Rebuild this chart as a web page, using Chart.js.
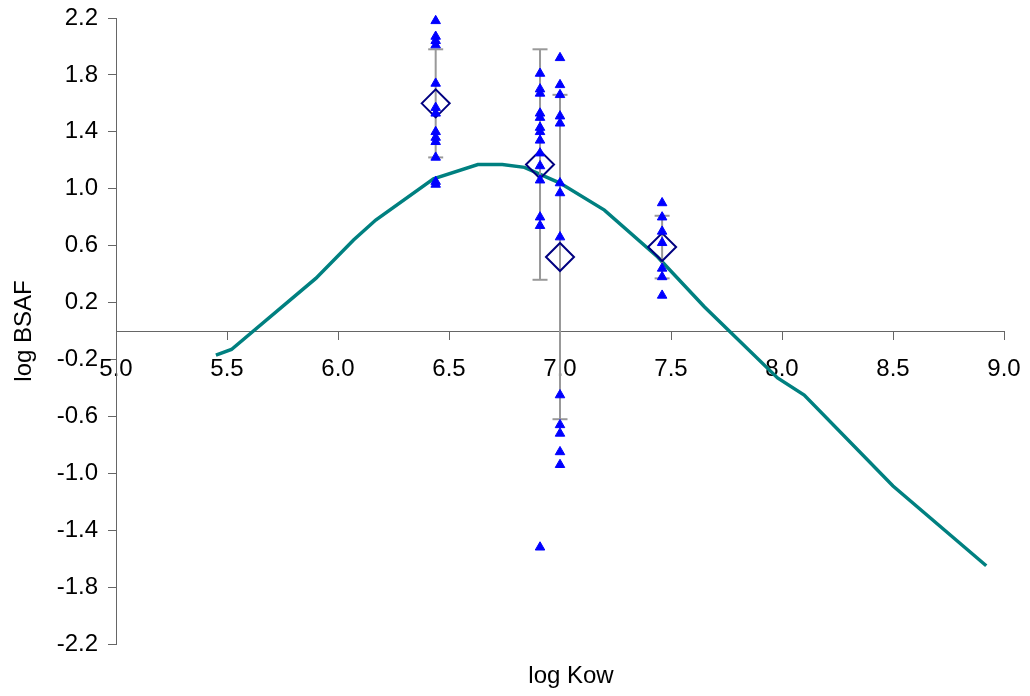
<!DOCTYPE html>
<html lang="en">
<head>
  <meta charset="UTF-8" />
  <title>log BSAF vs log Kow</title>
  <script src="https://cdn.jsdelivr.net/npm/chart.js"></script>
  <style>
    html, body { margin: 0; padding: 0; background: #fff; }
  </style>
</head>
<body>
  <canvas id="bsafChart" width="1030" height="696"></canvas>
  <script>
    // model curve (log Kow -> log BSAF)
    const curveKow  = [5.45, 5.52, 5.90, 6.07, 6.17, 6.43, 6.63, 6.74, 6.84, 7.00, 7.20, 7.44, 7.65, 7.98, 8.10, 8.50, 8.92];
    const curveBsaf = [-0.17, -0.13, 0.37, 0.64, 0.78, 1.07, 1.17, 1.17, 1.15, 1.04, 0.85, 0.52, 0.17, -0.33, -0.45, -1.09, -1.65];

    // measured values, one list per compound
    const groupKow = [6.44, 6.91, 7.00, 7.46];
    const obsGroup1 = [2.18, 2.07, 2.04, 2.01, 1.74, 1.57, 1.53, 1.40, 1.36, 1.33, 1.22, 1.05, 1.03];
    const obsGroup2 = [1.81, 1.70, 1.67, 1.53, 1.50, 1.43, 1.40, 1.34, 1.25, 1.16, 1.06, 0.80, 0.74, -1.52];
    const obsGroup3 = [1.92, 1.73, 1.66, 1.51, 1.46, 1.04, 0.97, 0.66, -0.45, -0.66, -0.72, -0.85, -0.94];
    const obsGroup4 = [0.90, 0.80, 0.70, 0.62, 0.44, 0.38, 0.25];

    // group mean and standard deviation
    const meanBsaf = [1.60, 1.17, 0.52, 0.59];
    const sdBsaf   = [0.38, 0.81, 1.14, 0.22];

    const xTicks = [5.0, 5.5, 6.0, 6.5, 7.0, 7.5, 8.0, 8.5, 9.0];
    const yTicks = [-2.2, -1.8, -1.4, -1.0, -0.6, -0.2, 0.2, 0.6, 1.0, 1.4, 1.8, 2.2];

    Chart.defaults.font.family = 'Arial, "Liberation Sans", sans-serif';
    Chart.defaults.font.size = 24;
    Chart.defaults.color = '#000';

    const obsGroups = [obsGroup1, obsGroup2, obsGroup3, obsGroup4];
    const obsPoints = [];
    obsGroups.forEach((vals, i) => {
      vals.forEach(v => obsPoints.push({ x: groupKow[i], y: v }));
    });

    const errorBars = groupKow.map((k, i) => ({
      type: 'scatter',
      data: [{ x: k, y: meanBsaf[i] + sdBsaf[i] }, { x: k, y: meanBsaf[i] - sdBsaf[i] }],
      showLine: true,
      borderColor: '#999999',
      borderWidth: 2,
      pointStyle: 'line',
      pointRadius: 7.5,
      pointBorderColor: '#999999',
      pointBorderWidth: 2,
      clip: false
    }));

    const xTitle = {
      id: 'xTitle',
      afterDraw(chart) {
        const { ctx, chartArea } = chart;
        ctx.save();
        ctx.font = '24px Arial, "Liberation Sans", sans-serif';
        ctx.fillStyle = '#000';
        ctx.textAlign = 'center';
        ctx.textBaseline = 'middle';
        ctx.fillText('log Kow', (chartArea.left + chartArea.right) / 2 + 11, 676);
        ctx.restore();
      }
    };

    // keep the plot area where the original had it, labels may spill over
    const noEdgePadding = s => {
      s.paddingTop = 0;
      s.paddingBottom = 0;
      s.paddingLeft = 0;
      s.paddingRight = 0;
    };

    const ctx = document.getElementById('bsafChart').getContext('2d');
    new Chart(ctx, {
      type: 'scatter',
      data: {
        datasets: [
          {
            data: obsPoints,
            pointStyle: 'triangle',
            pointRadius: 5.5,
            backgroundColor: '#0000ff',
            borderColor: '#0000ff',
            borderWidth: 1,
            clip: false
          },
          {
            data: groupKow.map((k, i) => ({ x: k, y: meanBsaf[i] })),
            pointStyle: 'rectRot',
            pointRadius: 14,
            backgroundColor: 'rgba(0,0,0,0)',
            borderColor: '#000080',
            borderWidth: 2,
            clip: false
          },
          ...errorBars,
          {
            data: curveKow.map((k, i) => ({ x: k, y: curveBsaf[i] })),
            showLine: true,
            borderColor: '#008080',
            borderWidth: 3.5,
            pointRadius: 0,
            tension: 0,
            clip: false
          }
        ]
      },
      options: {
        responsive: false,
        animation: false,
        devicePixelRatio: 1,
        layout: { padding: { top: 18, right: 26, bottom: 52, left: 0 } },
        plugins: {
          legend: { display: false },
          tooltip: { enabled: false }
        },
        scales: {
          x: {
            type: 'linear',
            position: { y: 0 },
            min: 5,
            max: 9,
            afterBuildTicks: s => { s.ticks = xTicks.map(v => ({ value: v })); },
            afterFit: noEdgePadding,
            grid: { drawOnChartArea: false, tickLength: 8, color: '#666' },
            border: { color: '#666', width: 1 },
            ticks: {
              autoSkip: false,
              maxRotation: 0,
              padding: 16,
              callback: v => v.toFixed(1)
            }
          },
          y: {
            type: 'linear',
            min: -2.2,
            max: 2.2,
            afterBuildTicks: s => { s.ticks = yTicks.map(v => ({ value: v })); },
            afterFit: s => { noEdgePadding(s); s.width = 116; },
            grid: { drawOnChartArea: false, tickLength: 8, color: '#666' },
            border: { color: '#666', width: 1 },
            ticks: {
              padding: 10,
              callback: v => v.toFixed(1)
            },
            title: {
              display: true,
              text: 'log BSAF',
              font: { size: 24 },
              padding: { top: 10, bottom: 0 }
            }
          }
        }
      },
      plugins: [xTitle]
    });
  </script>
</body>
</html>
